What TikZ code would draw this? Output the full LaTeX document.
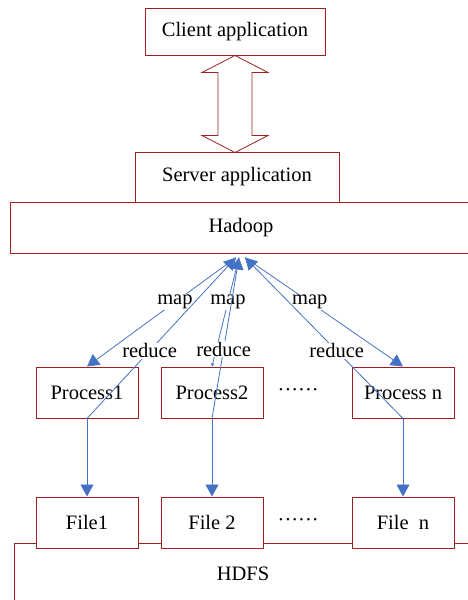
\documentclass[tikz,border=0pt]{standalone}
\usepackage{fontspec}
\setmainfont{Liberation Serif}
\usetikzlibrary{positioning, arrows.meta}
\definecolor{boxred}{RGB}{160,32,32}
\definecolor{linkblue}{RGB}{68,114,196}

\begin{document}
\begin{tikzpicture}[x=1pt, y=-1pt, node distance=22pt,
    font=\fontsize{20.5}{24}\selectfont,
    box/.style={rectangle, draw=boxred, line width=1pt, fill=white, inner sep=0pt,
                minimum width=102pt, minimum height=51pt},
    link/.style={draw=linkblue, line width=0.8pt},
    tip/.style={-{Triangle[width=13pt,length=12pt]}},
    smalltip/.style={-{Triangle[width=3pt,length=3pt]}},
    lbl/.style={fill=white, inner sep=1pt}]
    \clip (0,0) rectangle (468,600);

    \node[box, minimum width=180pt, minimum height=47pt] (client) at (235,31.5) {Client application};
    \node[box, minimum width=204pt, minimum height=50pt] (server) at (237,177) {Server application};
    \node[box, minimum width=462pt] (hadoop) at (241,227.5) {Hadoop};
    \draw[boxred, line width=0.8pt, shift={(client.south)}]
        (0,0) -- (33,17) -- (17,17) -- (17,80) -- (33,80) -- (0,97)
        -- (-33,80) -- (-17,80) -- (-17,17) -- (-33,17) -- cycle;

    % worker processes
    \node[box] (p1) at (87,392.5) {Process1};
    \node[box, right=of p1] (p2) {Process2};
    \node[box, right=88pt of p2] (pn) {Process n};
    \node[inner sep=0pt, right=14pt of p2] (pdots) {······};

    % file system
    \node[box, minimum width=458pt, minimum height=62pt] (hdfs) at (243,574) {HDFS};
    \node[box, below=78pt of p1] (f1) {File1};
    \node[box, below=78pt of p2] (f2) {File 2};
    \node[box, below=78pt of pn] (fn) {File\ \ n};
    \node[inner sep=0pt, right=14pt of f2] (fdots) {······};

    \coordinate (hub1) at ([xshift=-5pt, yshift=-4pt]hadoop.south);
    \coordinate (hub2) at ([xshift=-2pt, yshift=-4pt]hadoop.south);
    \coordinate (hubn) at ([xshift=4pt, yshift=-4pt]hadoop.south);

    \draw[link, tip] (hub1) -- node[lbl, pos=0.41] {map} (p1.north);
    \draw[link, tip] (p1.south) -- node[lbl, pos=0.42] {reduce} (hub1);
    \draw[link, tip] (p1.south) -- (f1.north);

    \draw[link, smalltip] (hub2) -- node[lbl, pos=0.41] {map} (p2.north);
    \draw[link, tip] (p2.south) -- node[lbl, pos=0.43] {reduce} (hub2);
    \draw[link, tip] (p2.south) -- (f2.north);

    \draw[link, tip] (hubn) -- node[lbl, pos=0.41] {map} (pn.north);
    \draw[link, tip] (pn.south) -- node[lbl, pos=0.42] {reduce} (hubn);
    \draw[link, tip] (pn.south) -- (fn.north);
\end{tikzpicture}
\end{document}
